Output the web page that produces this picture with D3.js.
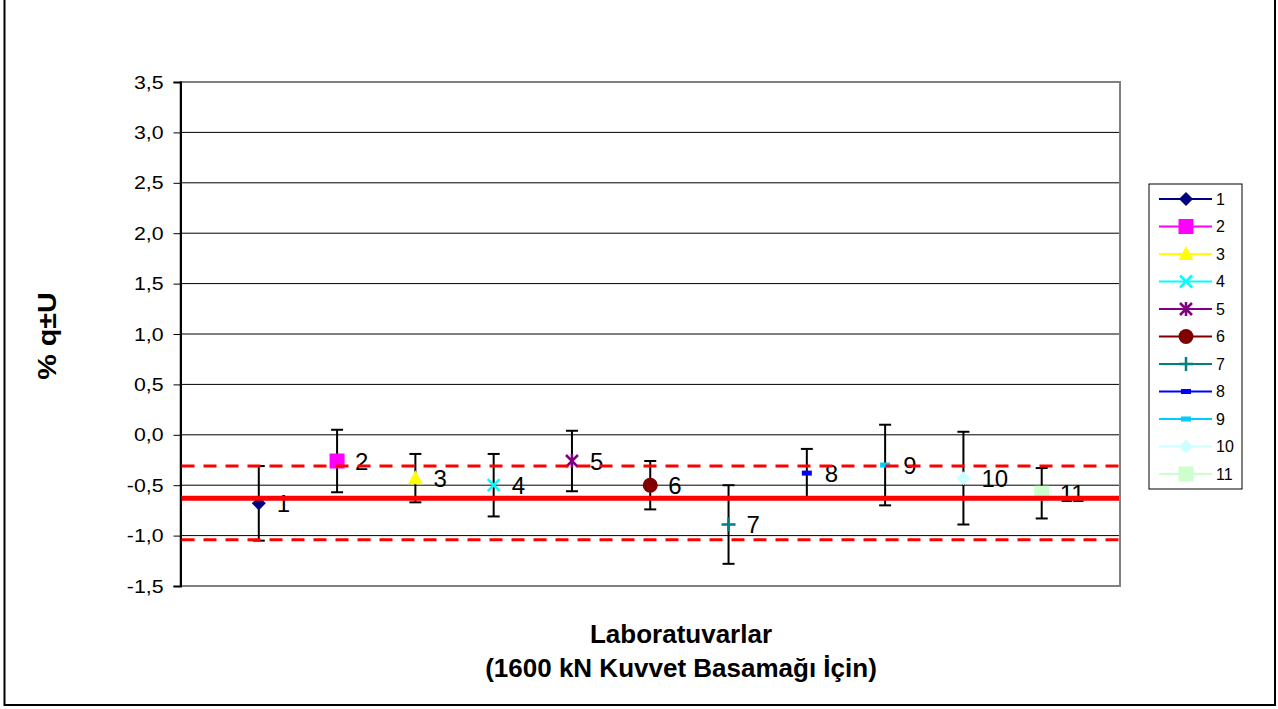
<!DOCTYPE html>
<html>
<head>
<meta charset="utf-8">
<script src="https://cdn.jsdelivr.net/npm/d3@7"></script>
<style>
  body { margin: 0; background: #fff; }
  svg { display: block; font-family: Arial, "Liberation Sans", sans-serif; }
</style>
</head>
<body>
<svg id="chart" width="1278" height="709"></svg>
<script>
// laboratory numbers, measured % q and expanded uncertainty U
const labs = ["1", "2", "3", "4", "5", "6", "7", "8", "9", "10", "11"];
const qValues = [-0.68, -0.26, -0.43, -0.50, -0.26, -0.50, -0.89, -0.38, -0.30, -0.43, -0.58];
const uValues = [0.37, 0.31, 0.24, 0.31, 0.30, 0.24, 0.39, 0.24, 0.40, 0.46, 0.25];
const seriesColors = ["#000080", "#FF00FF", "#FFFF00", "#00FFFF", "#800080", "#800000",
                      "#008080", "#0000FF", "#00CCFF", "#CCFFFF", "#CCFFCC"];
const seriesMarkers = ["diamond", "square", "triangle", "x", "star", "circle",
                       "plus", "dash", "dash", "diamond", "square"];
// reference value and its limits (red lines)
const refLines = [
    { value: -0.31, dashed: true },
    { value: -0.63, dashed: false },
    { value: -1.04, dashed: true }
];
const yTicks = [-1.5, -1.0, -0.5, 0.0, 0.5, 1.0, 1.5, 2.0, 2.5, 3.0, 3.5];

const PLOT = { left: 180.5, top: 82, right: 1120, bottom: 586 };
const TEXT_STRETCH = 1.12;

const svg = d3.select("#chart");

const x = d3.scaleLinear().domain([0, labs.length + 1]).range([PLOT.left, PLOT.right]);
const y = d3.scaleLinear().domain([-1.5, 3.5]).range([PLOT.bottom, PLOT.top]);

const locale = d3.formatLocale({ decimal: ",", thousands: ".", grouping: [3], currency: ["", ""], minus: "-" });
const fmt = locale.format(".1f");

// outer frame
svg.append("rect")
    .attr("x", 4.5).attr("y", -5)
    .attr("width", 1270.5).attr("height", 710)
    .attr("fill", "none")
    .attr("stroke", "#000")
    .attr("stroke-width", 2);

// gridlines
svg.append("g").selectAll("line")
    .data(yTicks.slice(1, -1))
    .join("line")
    .attr("x1", PLOT.left).attr("x2", PLOT.right)
    .attr("y1", d => y(d)).attr("y2", d => y(d))
    .attr("stroke", "#000")
    .attr("stroke-width", 1);

// plot border
svg.append("rect")
    .attr("x", PLOT.left).attr("y", PLOT.top)
    .attr("width", PLOT.right - PLOT.left).attr("height", PLOT.bottom - PLOT.top)
    .attr("fill", "none")
    .attr("stroke", "#808080")
    .attr("stroke-width", 2);

// y axis
const yAxis = svg.append("g")
    .attr("transform", "translate(" + PLOT.left + ",0)")
    .call(d3.axisLeft(y).tickValues(yTicks).tickFormat(fmt).tickSize(7).tickPadding(10));
yAxis.select(".domain").attr("stroke", "#000").attr("stroke-width", 2);
yAxis.selectAll(".tick line").attr("stroke", "#000");
yAxis.selectAll("text")
    .attr("font-size", "19px")
    .attr("font-family", "Arial, 'Liberation Sans', sans-serif")
    .attr("fill", "#000")
    .attr("x", -17 / TEXT_STRETCH)
    .attr("transform", "scale(" + TEXT_STRETCH + ",1)");

function drawMarker(g, type, color) {
    if (type === "diamond") {
        g.append("path").attr("d", "M0,-7L7,0L0,7L-7,0Z").attr("fill", color);
    } else if (type === "square") {
        g.append("rect").attr("x", -7.5).attr("y", -7.5).attr("width", 15).attr("height", 15).attr("fill", color);
    } else if (type === "triangle") {
        g.append("path").attr("d", "M0,-8L7.5,6L-7.5,6Z").attr("fill", color);
    } else if (type === "x") {
        g.append("path").attr("d", "M-6,-6L6,6M-6,6L6,-6").attr("stroke", color).attr("stroke-width", 2.5);
    } else if (type === "star") {
        g.append("path").attr("d", "M-6,-6L6,6M-6,6L6,-6M0,-7L0,7").attr("stroke", color).attr("stroke-width", 2.5);
    } else if (type === "circle") {
        g.append("circle").attr("r", 7.5).attr("fill", color);
    } else if (type === "plus") {
        g.append("path").attr("d", "M-7,0L7,0M0,-7L0,7").attr("stroke", color).attr("stroke-width", 2.5);
    } else if (type === "dash") {
        g.append("rect").attr("x", -5).attr("y", -2.5).attr("width", 10).attr("height", 5).attr("fill", color);
    }
}

const points = labs.map((lab, i) => ({
    lab: lab, q: qValues[i], u: uValues[i],
    color: seriesColors[i], marker: seriesMarkers[i], pos: i + 1
}));

// error bars
const errG = svg.append("g").attr("stroke", "#000").attr("stroke-width", 2);
points.forEach(function (d) {
    const cx = x(d.pos);
    errG.append("line").attr("x1", cx).attr("x2", cx).attr("y1", y(d.q + d.u)).attr("y2", y(d.q - d.u));
    errG.append("line").attr("x1", cx - 6).attr("x2", cx + 6).attr("y1", y(d.q + d.u)).attr("y2", y(d.q + d.u));
    errG.append("line").attr("x1", cx - 6).attr("x2", cx + 6).attr("y1", y(d.q - d.u)).attr("y2", y(d.q - d.u));
});

// markers and labels
points.forEach(function (d) {
    const g = svg.append("g").attr("transform", "translate(" + x(d.pos) + "," + y(d.q) + ")");
    drawMarker(g, d.marker, d.color);
    svg.append("text")
        .attr("x", x(d.pos) + 18)
        .attr("y", y(d.q))
        .attr("dominant-baseline", "central")
        .attr("font-size", "24px")
        .attr("fill", "#000")
        .text(d.lab);
});

// reference lines
svg.append("g").selectAll("line")
    .data(refLines)
    .join("line")
    .attr("x1", PLOT.left + 1).attr("x2", PLOT.right - 1)
    .attr("y1", d => y(d.value)).attr("y2", d => y(d.value))
    .attr("stroke", "#FF0000")
    .attr("stroke-width", d => d.dashed ? 3 : 5)
    .attr("stroke-dasharray", d => d.dashed ? "13,9" : null);

// legend
const legend = svg.append("g").attr("transform", "translate(1149,184)");
legend.append("rect")
    .attr("width", 93).attr("height", 305)
    .attr("fill", "#fff")
    .attr("stroke", "#000")
    .attr("stroke-width", 1);
points.forEach(function (d, i) {
    const row = legend.append("g").attr("transform", "translate(0," + (15 + i * 27.5) + ")");
    row.append("line").attr("x1", 10).attr("x2", 63).attr("stroke", d.color).attr("stroke-width", 2);
    drawMarker(row.append("g").attr("transform", "translate(37,0)"), d.marker, d.color);
    row.append("text")
        .attr("x", 67)
        .attr("dominant-baseline", "central")
        .attr("font-size", "16px")
        .attr("fill", "#000")
        .text(d.lab);
});

// axis titles
svg.append("text")
    .attr("transform", "translate(48,336) rotate(-90) scale(1.15,1)")
    .attr("text-anchor", "middle")
    .attr("dominant-baseline", "central")
    .attr("font-size", "25px")
    .attr("font-weight", "bold")
    .text("% q±U");

svg.append("text")
    .attr("x", 681).attr("y", 634)
    .attr("text-anchor", "middle")
    .attr("dominant-baseline", "central")
    .attr("font-size", "26px")
    .attr("font-weight", "bold")
    .text("Laboratuvarlar");

svg.append("text")
    .attr("x", 681).attr("y", 668)
    .attr("text-anchor", "middle")
    .attr("dominant-baseline", "central")
    .attr("font-size", "26px")
    .attr("font-weight", "bold")
    .text("(1600 kN Kuvvet Basamağı İçin)");
</script>
</body>
</html>
